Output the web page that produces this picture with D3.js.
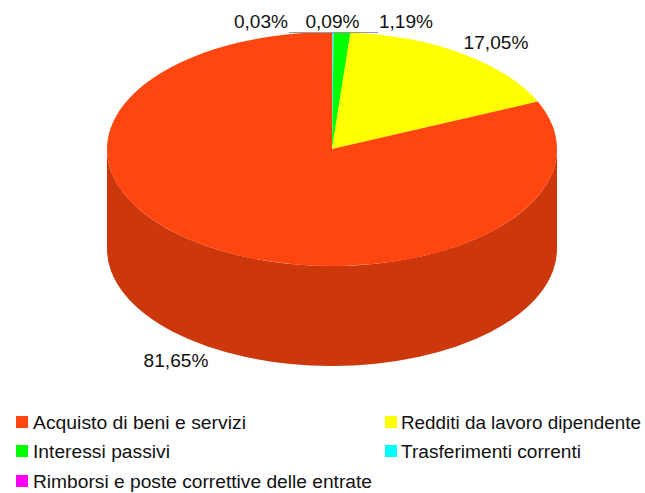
<!DOCTYPE html>
<html><head><meta charset="utf-8">
<script src="https://cdn.jsdelivr.net/npm/d3@7/dist/d3.min.js"></script>
<style>html,body{margin:0;padding:0;background:#fff}svg{display:block}text{font-family:"Liberation Sans",Arial,sans-serif;fill:#111}</style>
</head><body><svg id="c" width="645" height="493"></svg>
<script>
const categories=["Rimborsi e poste correttive delle entrate","Trasferimenti correnti","Interessi passivi","Redditi da lavoro dipendente","Acquisto di beni e servizi"];
const values=[0.03,0.09,1.19,17.05,81.65];
const labels=["0,03%","0,09%","1,19%","17,05%","81,65%"];
const colors=["#ff00ff","#00ffff","#00ff00","#ffff00","#ff4510"];
const sideColors=["#cc00cc","#00cccc","#00cc00","#cccc00","#cc370b"];
const legendOrder=["Acquisto di beni e servizi","Redditi da lavoro dipendente","Interessi passivi","Trasferimenti correnti","Rimborsi e poste correttive delle entrate"];

const svg=d3.select("#c");
const cx=332,cy=149,rx=225,ry=117,depth=100;
const pie=d3.pie().sort(null).value(d=>d.v)(values.map((v,i)=>({v,i})));
const pt=(a,dy=0)=>[cx+rx*Math.sin(a),cy+dy-ry*Math.cos(a)];

// visible outer wall
pie.forEach(s=>{
  const a0=Math.max(s.startAngle,Math.PI/2),a1=Math.min(s.endAngle,Math.PI*1.5);
  if(a1<=a0)return;
  const [x0,y0]=pt(a0),[x1,y1]=pt(a1),[x2,y2]=pt(a1,depth),[x3,y3]=pt(a0,depth);
  const large=a1-a0>Math.PI?1:0;
  svg.append("path")
    .attr("d",`M${x0},${y0}A${rx},${ry} 0 ${large} 1 ${x1},${y1}L${x2},${y2}A${rx},${ry} 0 ${large} 0 ${x3},${y3}Z`)
    .attr("fill",sideColors[s.data.i]);
});
// top face
const arc=d3.arc().innerRadius(0).outerRadius(ry);
const topFace=svg.append("g").attr("transform",`translate(${cx},${cy}) scale(${rx/ry},1)`);
topFace.selectAll("path").data(pie).join("path").attr("d",arc).attr("fill",d=>colors[d.data.i]);

// leader lines
svg.append("line").attr("x1",289).attr("x2",332).attr("y1",32.5).attr("y2",32.5).attr("stroke","#999").attr("stroke-width",1);
svg.append("line").attr("x1",332).attr("x2",378).attr("y1",32.5).attr("y2",32.5).attr("stroke","#999").attr("stroke-width",1);

// data labels
const labelPos=[[261,28],[332.5,28],[406,28],[496,49],[176,367]];
svg.selectAll("text.v").data(labels).join("text").attr("class","v")
  .attr("x",(d,i)=>labelPos[i][0]).attr("y",(d,i)=>labelPos[i][1])
  .attr("text-anchor","middle").attr("font-size",19.1).text(d=>d);

// legend
const legendPos=[[16,429],[385,429],[16,458],[385,458],[16,488]];
const legendWidths=[213,240,137,180,339];
legendOrder.forEach((name,i)=>{
  const [x,y]=legendPos[i];
  svg.append("rect").attr("x",x).attr("y",y-13).attr("width",12).attr("height",12)
    .attr("fill",colors[categories.indexOf(name)]);
  svg.append("text").attr("x",i%2?401:33).attr("y",y).attr("font-size",19.2)
    .attr("textLength",legendWidths[i]).attr("lengthAdjust","spacingAndGlyphs").text(name);
});
</script></body></html>
